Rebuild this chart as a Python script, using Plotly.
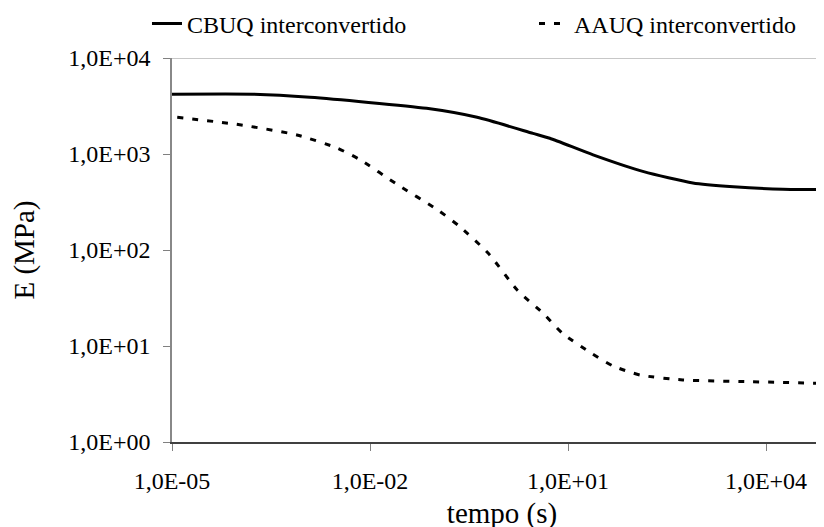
import plotly.graph_objects as go

# Data (time in s, modulus in MPa)
cbuq_t = [1e-5, 1.7e-4, 1.23e-3, 7.2e-2, 4.2e-1, 2.95e0, 5.3e0, 2.4e1, 1.4e2, 7.8e2, 3.2e3, 1.8e4, 7.6e4]
cbuq_e = [4190, 4190, 3890, 2990, 2410, 1640, 1460, 980, 655, 500, 457, 429, 427]

aauq_t = [1.2e-5, 9.5e-5, 7.8e-4, 3.2e-3, 7.1e-3, 2.6e-2, 1.05e-1, 2.3e-1, 6.2e-1,
          1.7e0, 4.2e0, 8.3e0, 2.1e1, 4.8e1, 1.23e2, 5.5e2, 5.8e3, 7.6e4]
aauq_e = [2410, 2040, 1580, 1150, 870, 480, 263, 175, 92.5,
          38.3, 21.9, 13.5, 8.7, 6.2, 4.99, 4.43, 4.25, 4.07]

x_ticks = [1e-5, 1e-2, 1e1, 1e4]
x_labels = ["1,0E-05", "1,0E-02", "1,0E+01", "1,0E+04"]
y_ticks = [1, 10, 100, 1000, 10000]
y_labels = ["1,0E+00", "1,0E+01", "1,0E+02", "1,0E+03", "1,0E+04"]

FONT = "Liberation Serif, Times New Roman, serif"

fig = go.Figure()
fig.add_trace(go.Scatter(x=cbuq_t, y=cbuq_e, mode="lines", name="CBUQ interconvertido",
                         line=dict(color="black", width=3, shape="spline", smoothing=0.6)))
fig.add_trace(go.Scatter(x=aauq_t, y=aauq_e, mode="lines", name="AAUQ interconvertido",
                         line=dict(color="black", width=3, dash="6px,9px", shape="spline", smoothing=0.6)))

# only gridline in the original is the top one
fig.add_shape(type="line", xref="paper", yref="y", x0=0, x1=1, y0=10000, y1=10000,
              line=dict(color="#b4b4b4", width=1.5))

fig.update_xaxes(type="log", range=[-5, 5], tickvals=x_ticks, ticktext=x_labels,
                 showgrid=False, zeroline=False, showline=True, linecolor="#404040", linewidth=1.5,
                 ticks="outside", ticklen=7, tickcolor="#808080", ticklabelstandoff=9,
                 automargin=False, title=dict(text="tempo (s)", standoff=10))
fig.update_yaxes(type="log", range=[0, 4], tickvals=y_ticks, ticktext=y_labels,
                 showgrid=False, zeroline=False, showline=True, linecolor="#888888", linewidth=1.5,
                 ticks="outside", ticklen=7, tickcolor="#808080", ticklabelstandoff=8,
                 automargin=False, title=dict(text="E (MPa)", standoff=27))

fig.update_layout(
    width=824, height=527,
    margin=dict(l=164, r=0, t=50, b=93, autoexpand=False),
    paper_bgcolor="white", plot_bgcolor="white",
    font=dict(family=FONT, size=24, color="black"),
    legend=dict(orientation="h", x=-0.0379, xanchor="left", y=1.0885, yanchor="middle",
                entrywidth=342, entrywidthmode="pixels", font=dict(size=24)),
)

fig.write_html("out.html")
